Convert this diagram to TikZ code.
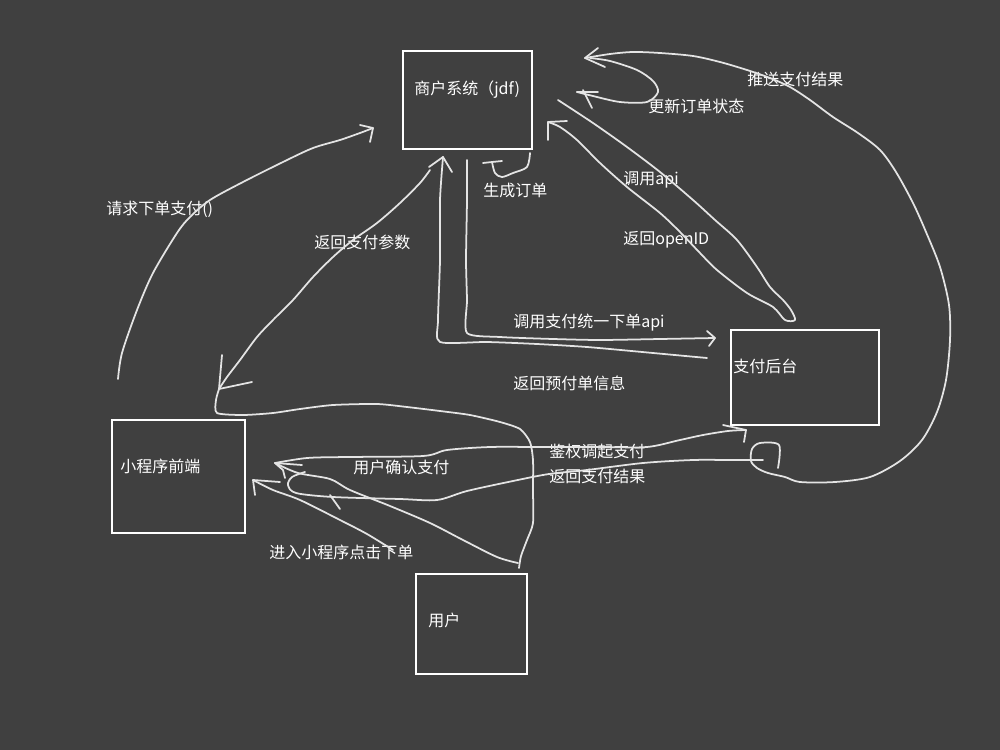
\documentclass[tikz,border=0pt]{standalone}
\usepackage{fontspec}
\setmainfont{Noto Sans CJK SC}
\usepackage{xcolor}
\usepackage{tikz}
\usetikzlibrary{positioning}

\definecolor{boardgray}{RGB}{64,64,64}
\definecolor{chalk}{RGB}{228,228,228}

\begin{document}
\begin{tikzpicture}[
                x = 0.02cm, y = -0.02cm,
                every node/.append style = {inner sep = 0pt},
                box/.style = {draw = white, line width = 1.2pt, anchor = north west},
                lbl/.style = {anchor = west, text = white, font = \fontsize{9.1}{11}\selectfont},
                hand/.style = {draw = chalk, line width = 1pt, line cap = round, line join = round},
                tip/.style = {hand}]
            \fill[boardgray] (0,0) rectangle (1000,750);

            % boxes
            \node[box, minimum width = 2.58cm, minimum height = 1.96cm] (merchant) at (402,50) {};
            \node[box, minimum width = 2.96cm, minimum height = 1.90cm] (payback) at (730,329) {};
            \node[box, minimum width = 2.66cm, minimum height = 2.26cm] (mini) at (111,419) {};
            \node[box, minimum width = 2.22cm, minimum height = 2.00cm] (user) at (415,573) {};
            \node[lbl] (merchantT) at (414,90) {商户系统（jdf)};
            \node[lbl] (paybackT) at (733,366) {支付后台};
            \node[lbl] (miniT) at (120,466) {小程序前端};
            \node[lbl] (userT) at (428,620) {用户};

            % labels
            \node[lbl] (reqL) at (106,209) {请求下单支付()};
            \node[lbl] (paramL) at (314,242) {返回支付参数};
            \node[lbl] (orderL) at (483,190) {生成订单};
            \node[lbl] (apiL) at (623,180) {调用api};
            \node[lbl] (openL) at (623,240) {返回openID};
            \node[lbl] (updL) at (648,106) {更新订单状态};
            \node[lbl] (pushL) at (747,79) {推送支付结果};
            \node[lbl] (unifyL) at (513,323) {调用支付统一下单api};
            \node[lbl] (prepayL) at (513,383) {返回预付单信息};
            \node[lbl] (authL) at (549,451) {鉴权调起支付};
            \node[lbl] (resultL) at (549,476) {返回支付结果};
            \node[lbl] (confirmL) at (353,467) {用户确认支付};
            \node[lbl] (enterL) at (269,552) {进入小程序点击下单};

            % end points
            \coordinate (reqA) at (118,379);
            \coordinate (reqB) at (373,128);
            \coordinate (parA) at (430,170);
            \coordinate (parB) at (219,389);
            \coordinate (genA) at (530,153);
            \coordinate (genB) at (492,162);
            \coordinate (uniA) at (467,160);
            \coordinate (uniB) at (715,338);
            \coordinate (preA) at (707,358);
            \coordinate (preB) at (443,157);
            \coordinate (apiA) at (558,100);
            \coordinate (apiB) at (548,122);
            \coordinate (pushA) at (778,468);
            \coordinate (pushB) at (585,58);
            \coordinate (updA) at (590,58);
            \coordinate (updB) at (577,92);
            \coordinate (authA) at (275,463);
            \coordinate (authB) at (746,430);
            \coordinate (resA) at (763,460);
            \coordinate (resB) at (305,472);
            \coordinate (cfmA) at (518,563);
            \coordinate (entA) at (393,550);
            \coordinate (entB) at (253,480);
            \coordinate (loopA) at (519,568);

            % connectors
            \draw[hand] plot[smooth] coordinates {(reqA) (122,353) (137,310) (153,273) (177,233) (190,217)
                (210,200) (243,182) (283,162) (313,148) (340,140) (360,133) (reqB)};
            \draw[tip] (360,125) -- (reqB) -- (370,142);

            \draw[hand] plot[smooth] coordinates {(parA) (420,183) (400,203) (377,223) (353,240) (333,257)
                (313,277) (293,300) (273,320) (257,337) (240,360) (227,377) (parB)};
            \draw[tip] (222,355) -- (parB) -- (252,382);

            \draw[hand] plot[smooth, tension = 0.4] coordinates {(parB) (216,400) (217,413) (243,415) (273,413)
                (300,409) (333,405) (377,404) (407,407) (440,411) (470,415) (500,422) (520,429) (530,442)
                (533,460) (533,490) (533,523) (527,540) (521,556) (loopA)};

            \draw[hand] plot[smooth] coordinates {(genA) (527,167) (513,173) (502,177) (495,173) (genB)};
            \draw[tip] (483,163) -- (genB) -- (502,161);

            \draw[hand] plot[smooth, tension = 0.4] coordinates {(uniA) (467,200) (466,260) (467,300) (467,333)
                (500,337) (553,339) (600,340) (660,339) (uniB)};
            \draw[tip] (707,331) -- (uniB) -- (709,346);

            \draw[hand] plot[smooth, tension = 0.4] coordinates {(preA) (653,353) (587,347) (537,344) (487,342)
                (440,342) (438,320) (440,260) (440,200) (preB)};
            \draw[tip] (429,167) -- (preB) -- (452,172);

            \draw[hand] plot[smooth] coordinates {(apiA) (593,123) (627,147) (660,172) (693,200) (715,220)
                (737,240) (757,267) (770,287) (783,300) (791,310) (795,320) (785,320) (773,307) (747,293)
                (717,270) (700,253) (680,232) (660,213) (627,187) (600,163) (577,140) (560,127) (apiB)};
            \draw[tip] (567,121) -- (apiB) -- (548,140);

            \draw[hand] plot[smooth] coordinates {(pushA) (779,445) (760,443) (752,449) (751,461) (757,468)
                (768,473) (785,477) (800,482) (835,482) (870,477) (900,461) (922,440) (937,412) (946,380)
                (950,340) (949,305) (940,267) (926,232) (913,203) (896,172) (880,150) (858,133) (833,117)
                (810,100) (790,87) (770,78) (747,70) (720,62) (693,56) (660,53) (633,52) (610,54) (pushB)};
            \draw[tip] (598,48) -- (pushB) -- (605,67);

            \draw[hand] plot[smooth] coordinates {(updA) (610,61) (637,70) (653,81) (658,92) (647,102)
                (620,102) (593,96) (updB)};
            \draw[tip] (598,92) -- (updB);
            \draw[tip] (583,90) -- (592,108);

            \draw[hand] plot[smooth] coordinates {(authA) (307,458) (347,457) (423,456) (447,450) (490,447)
                (540,447) (600,447) (647,447) (680,440) (703,435) (728,431) (authB)};
            \draw[tip] (723,425) -- (authB) -- (744,442);
            \draw[tip] (302,465) -- (authA) -- (283,470) -- (285,478);

            \draw[hand] plot[smooth] coordinates {(resA) (730,460) (693,460) (643,463) (587,470) (549,474)
                (513,481) (467,491) (437,500) (400,499) (333,497) (296,493) (288,485) (292,477) (resB)};
            \draw[hand] (330,495) -- (340,509);

            \draw[hand] plot[smooth] coordinates {(cfmA) (497,557) (463,540) (430,523) (390,506) (350,490)
                (330,479) (298,473) (authA)};

            \draw[hand] plot[smooth] coordinates {(entA) (367,534) (340,520) (300,500) (273,490) (entB)};
            \draw[tip] (280,482) -- (entB) -- (255,495);
\end{tikzpicture}
\end{document}
